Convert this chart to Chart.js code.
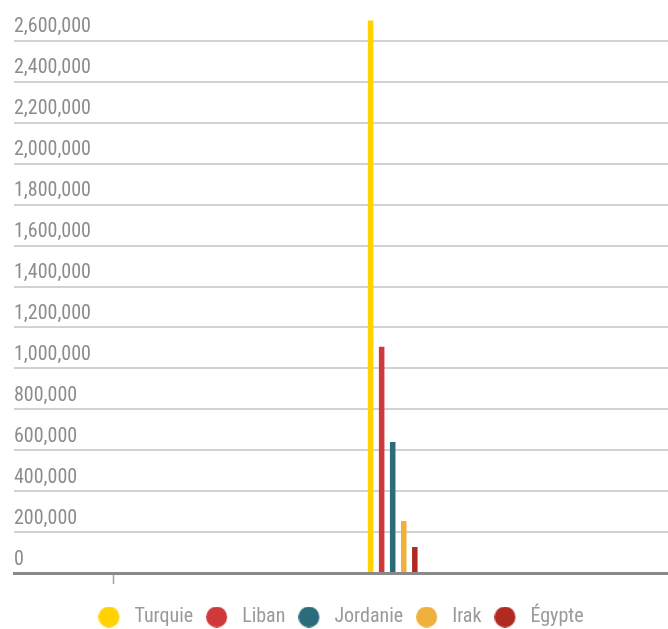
<!DOCTYPE html>
<html>
<head>
<meta charset="utf-8">
<script src="https://cdn.jsdelivr.net/npm/chart.js@4/dist/chart.umd.min.js"></script>
<style>
  html, body { margin: 0; padding: 0; background: #fff; overflow: hidden; }
  #wrap { width: 668px; height: 629px; overflow: hidden; }
</style>
</head>
<body>
<div id="wrap"><canvas id="chart" width="668" height="645"></canvas></div>
<script>
// one group of bars (x position on a year axis) and the single axis tick
const periods = [2016];
const xTickValues = [2012];
const countries = ['Turquie', 'Liban', 'Jordanie', 'Irak', 'Égypte'];
const refugees = [2700000, 1105000, 640000, 254000, 127000];
const colors = ['#FFD200', '#D0393B', '#2B6B7A', '#F0B03C', '#B02A22'];
const yMax = 2800000;
const yStep = 200000;

Chart.defaults.font.family = "'Roboto Condensed', 'DejaVu Sans Condensed', sans-serif";
Chart.defaults.font.size = 20;

// legend dot drawn on a small canvas so the gap to the text can be wider
const makeDot = (color) => {
    const c = document.createElement('canvas');
    c.width = 26;
    c.height = 21;
    const g = c.getContext('2d');
    g.fillStyle = color;
    g.beginPath();
    g.arc(10.5, 10.5, 10.5, 0, Math.PI * 2);
    g.fill();
    return c;
};
const dots = colors.map(makeDot);

const datasets = countries.map((name, i) => ({
    label: name,
    data: periods.map(p => ({ x: p, y: refugees[i] })),
    backgroundColor: colors[i],
    borderWidth: 0,
    categoryPercentage: 0.0845,
    barPercentage: 0.5
}));

new Chart(document.getElementById('chart'), {
    type: 'bar',
    data: { datasets: datasets },
    options: {
        responsive: false,
        animation: false,
        layout: { padding: { left: 14, right: 0, top: 0, bottom: 8 } },
        scales: {
            x: {
                type: 'linear',
                min: 2010.58,
                max: 2019.94,
                offset: false,
                afterBuildTicks: (scale) => {
                    scale.ticks = xTickValues.map(v => ({ value: v }));
                },
                afterFit: (scale) => { scale.height = 21; },
                ticks: { display: false },
                grid: {
                    offset: false,
                    drawOnChartArea: false,
                    tickLength: 11,
                    tickColor: '#a3a3a3',
                    tickWidth: 1.5
                },
                border: { color: '#8a8a8a', width: 3 }
            },
            y: {
                min: 0,
                max: yMax,
                afterFit: (scale) => { scale.paddingTop = 0; },
                ticks: {
                    stepSize: yStep,
                    mirror: true,
                    padding: 0,
                    labelOffset: -13.5,
                    color: '#8c8c8c',
                    callback: (v) => v >= yMax ? null : v.toLocaleString('en-US')
                },
                grid: { color: '#d2d2d2', lineWidth: 2, drawTicks: false },
                border: { display: false }
            }
        },
        plugins: {
            tooltip: { enabled: false },
            legend: {
                position: 'bottom',
                labels: {
                    usePointStyle: true,
                    pointStyleWidth: 26,
                    padding: 13,
                    color: '#9a9a9a',
                    font: { size: 20 },
                    generateLabels: (chart) => Chart.defaults.plugins.legend.labels.generateLabels(chart)
                        .map((item, i) => Object.assign(item, { pointStyle: dots[i] }))
                }
            }
        }
    }
});
</script>
</body>
</html>
